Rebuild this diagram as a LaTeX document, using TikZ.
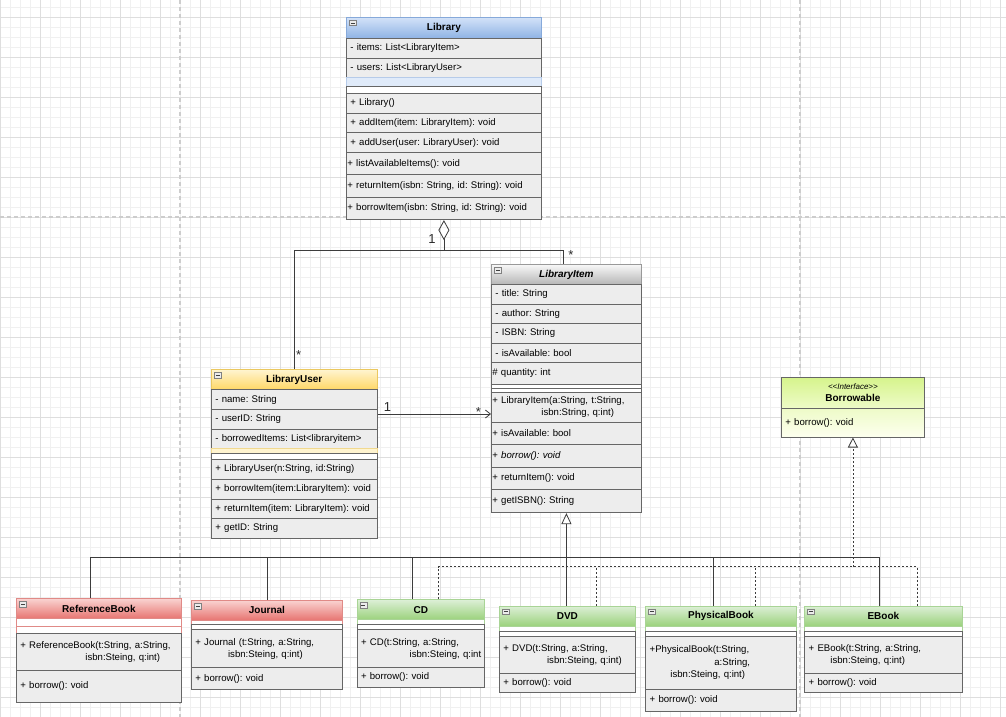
\documentclass[tikz,border=0pt]{standalone}
\usepackage{fontspec}
\setmainfont{Liberation Sans}
\usetikzlibrary{arrows.meta}
\frenchspacing

\definecolor{rowfill}{HTML}{EDEDED}
\definecolor{rowline}{HTML}{666666}
\definecolor{linkc}{HTML}{3C3C3C}
\definecolor{bluetop}{HTML}{D3E2F8}
\definecolor{bluebot}{HTML}{8DB2E4}
\definecolor{blueline}{HTML}{86A9DA}
\definecolor{yellowtop}{HTML}{FFF4CF}
\definecolor{yellowbot}{HTML}{FFD765}
\definecolor{yellowline}{HTML}{EBC860}
\definecolor{graytop}{HTML}{F7F7F7}
\definecolor{graybot}{HTML}{B5B5B5}
\definecolor{grayline}{HTML}{999999}
\definecolor{redtop}{HTML}{F9D2D0}
\definecolor{redbot}{HTML}{E77470}
\definecolor{redline}{HTML}{E08A87}
\definecolor{greentop}{HTML}{DCEFD6}
\definecolor{greenbot}{HTML}{9BD27C}
\definecolor{greenline}{HTML}{A9D496}
\definecolor{ifacetop}{HTML}{D6F48C}
\definecolor{ifacemid}{HTML}{EEFBC8}
\definecolor{ifacebot}{HTML}{FDFFEF}
\definecolor{gridc}{HTML}{F0F0F0}
\definecolor{gridmaj}{HTML}{DEDEDE}
\definecolor{breakc}{HTML}{CDCDCD}
\definecolor{multc}{HTML}{2A2A2A}

\newcommand{\rowpad}{\hspace*{3pt}}

\tikzset{
  cls cell/.style={draw=rowline, line width=0.8pt, anchor=north west, inner xsep=1pt, inner ysep=0pt,
    align=left, font=\fontsize{9.6}{12.3}\selectfont},
  cls row/.style={cls cell, fill=rowfill},
  cls gap/.style={cls cell, fill=white, font=\fontsize{1}{1}\selectfont},
  cls head/.style={cls cell, align=center, font=\fontsize{10}{12}\selectfont\bfseries},
  head blue/.style={cls head, draw=blueline, top color=bluetop, bottom color=bluebot},
  head yellow/.style={cls head, draw=yellowline, top color=yellowtop, bottom color=yellowbot},
  head gray/.style={cls head, draw=grayline, top color=graytop, bottom color=graybot},
  head red/.style={cls head, draw=redline, top color=redtop, bottom color=redbot},
  head green/.style={cls head, draw=greenline, top color=greentop, bottom color=greenbot},
  cls icon/.style={draw=gray, fill=gray!15, line width=0.5pt, anchor=north west, minimum width=7pt,
    minimum height=5.5pt, inner sep=0pt,
    path picture={\draw[gray!50!black, line width=0.6pt] ([xshift=1.5pt]path picture bounding box.west)
      -- ([xshift=-1.5pt]path picture bounding box.east);}},
  link/.style={draw=linkc, line width=0.8pt},
  realize/.style={link, dash pattern=on 2pt off 2pt},
  mult/.style={anchor=base, inner sep=0pt, font=\fontsize{13}{13}\selectfont, text=multc},
  grid minor/.style={draw=gridc, line width=0.5pt},
  grid major/.style={draw=gridmaj, line width=0.6pt},
  page break/.style={draw=breakc, line width=1.2pt, dash pattern=on 4pt off 3pt}
}

\begin{document}
\begin{tikzpicture}[x=1pt, y=-1pt]
\fill[white] (0,0) rectangle (1006,717);
\useasboundingbox (0,0) rectangle (1006,717);

% background grid and page breaks
\foreach \x in {0,10,...,1000} \draw[grid minor] (\x,0) -- (\x,717);
\foreach \y in {7,17,...,717} \draw[grid minor] (0,\y) -- (1006,\y);
\foreach \x in {0,40,...,1000} \draw[grid major] (\x,0) -- (\x,717);
\foreach \y in {17,57,...,697} \draw[grid major] (0,\y) -- (1006,\y);
\draw[page break] (180,0) -- (180,717) (800,0) -- (800,717) (0,217) -- (1006,217);

% Library
\begin{scope}[nodes={text width=193pt}]
\node[head blue, minimum height=21.3pt] (library) at (346,17) {Library};
\node[cls row, minimum height=19.4pt] (lib-a1) at (346,38.3) {\rowpad- items: List<LibraryItem>};
\node[cls row, minimum height=19pt] (lib-a2) at (346,57.7) {\rowpad- users: List<LibraryUser>};
\node[cls gap, fill=bluetop!70, draw=blueline!60, minimum height=9.3pt] (lib-e1) at (346,76.7) {};
\node[cls gap, minimum height=7.3pt] (lib-e2) at (346,86) {};
\node[cls row, minimum height=19.4pt] (lib-m1) at (346,93.3) {\rowpad+ Library()};
\node[cls row, minimum height=19.6pt] (lib-m2) at (346,112.7) {\rowpad+ addItem(item: LibraryItem): void};
\node[cls row, minimum height=20pt] (lib-m3) at (346,132.3) {\rowpad+ addUser(user: LibraryUser): void};
\node[cls row, minimum height=21.7pt] (lib-m4) at (346,152.3) {+ listAvailableItems(): void};
\node[cls row, minimum height=22.7pt] (lib-m5) at (346,174) {+ returnItem(isbn: String, id: String): void};
\node[cls row, minimum height=22.6pt] (lib-m6) at (346,196.7) {+ borrowItem(isbn: String, id: String): void};
\end{scope}

% LibraryItem
\begin{scope}[nodes={text width=148pt}]
\node[head gray, minimum height=20pt] (item) at (491,264.3) {\itshape LibraryItem};
\node[cls row, minimum height=19.4pt] (item-a1) at (491,284.3) {\rowpad- title: String};
\node[cls row, minimum height=19.6pt] (item-a2) at (491,303.7) {\rowpad- author: String};
\node[cls row, minimum height=19.4pt] (item-a3) at (491,323.3) {\rowpad- ISBN: String};
\node[cls row, minimum height=19pt] (item-a4) at (491,342.7) {\rowpad- isAvailable: bool};
\node[cls row, minimum height=22.6pt] (item-a5) at (491,361.7) {\# quantity: int};
\node[cls gap, minimum height=4pt] (item-e1) at (491,384.3) {};
\node[cls gap, minimum height=3.4pt] (item-e2) at (491,388.3) {};
\node[cls row, minimum height=30pt] (item-m1) at (491,391.7)
  {+ LibraryItem(a:String, t:String,\\\hspace*{49pt}isbn:String, q:int)};
\node[cls row, minimum height=22.6pt] (item-m2) at (491,421.7) {+ isAvailable: bool};
\node[cls row, minimum height=22.4pt] (item-m3) at (491,444.3) {+ \textit{borrow(): void}};
\node[cls row, minimum height=22.6pt] (item-m4) at (491,466.7) {+ returnItem(): void};
\node[cls row, minimum height=23pt] (item-m5) at (491,489.3) {+ getISBN(): String};
\end{scope}

% LibraryUser
\begin{scope}[nodes={text width=163.7pt}]
\node[head yellow, minimum height=20pt] (user) at (211,369.3) {LibraryUser};
\node[cls row, minimum height=19.7pt] (user-a1) at (211,389.3) {\rowpad- name: String};
\node[cls row, minimum height=19.7pt] (user-a2) at (211,409) {\rowpad- userID: String};
\node[cls row, minimum height=19pt] (user-a3) at (211,428.7) {\rowpad- borrowedItems: List<libraryitem>};
\node[cls gap, fill=yellowtop, draw=yellowline!70, minimum height=5pt] (user-e1) at (211,447.7) {};
\node[cls gap, minimum height=6.3pt] (user-e2) at (211,452.7) {};
\node[cls row, minimum height=20pt] (user-m1) at (211,459) {\rowpad+ LibraryUser(n:String, id:String)};
\node[cls row, minimum height=20pt] (user-m2) at (211,479) {\rowpad+ borrowItem(item:LibraryItem): void};
\node[cls row, minimum height=19.3pt] (user-m3) at (211,499) {\rowpad+ returnItem(item: LibraryItem): void};
\node[cls row, minimum height=19.4pt] (user-m4) at (211,518.3) {\rowpad+ getID: String};
\end{scope}

% Borrowable
\begin{scope}[nodes={text width=141pt}]
\node[cls head, top color=ifacetop, bottom color=ifacemid, minimum height=31.6pt] (borrowable) at (781,376.7)
  {{\mdseries\itshape\fontsize{8}{10}\selectfont <\kern0pt<Interface>\kern0pt>}\\Borrowable};
\node[cls cell, top color=ifacemid, bottom color=ifacebot, minimum height=28.4pt] (borr-m1) at (781,408.3)
  {\rowpad+ borrow(): void};
\end{scope}

% ReferenceBook
\begin{scope}[nodes={text width=163pt}]
\node[head red, minimum height=20pt] (refbook) at (16,598.3) {ReferenceBook};
\node[cls gap, draw=redline, minimum height=7.4pt] (refbook-e1) at (16,618.3) {};
\node[cls gap, draw=redline, minimum height=7pt] (refbook-e2) at (16,625.7) {};
\node[cls row, minimum height=37.3pt] (refbook-m1) at (16,632.7)
  {\rowpad+ ReferenceBook(t:String, a:String,\\\hspace*{68pt}isbn:Steing, q:int)};
\node[cls row, minimum height=32pt] (refbook-m2) at (16,670) {\rowpad+ borrow(): void};
\end{scope}

% Journal
\begin{scope}[nodes={text width=149pt}]
\node[head red, minimum height=20pt] (journal) at (191,600) {Journal};
\node[cls gap, draw=redline, minimum height=4.3pt] (journal-e1) at (191,620) {};
\node[cls gap, minimum height=5pt] (journal-e2) at (191,624.3) {};
\node[cls row, minimum height=38pt] (journal-m1) at (191,629.3)
  {\rowpad+ Journal (t:String, a:String,\\\hspace*{35.7pt}isbn:Steing, q:int)};
\node[cls row, minimum height=22pt] (journal-m2) at (191,667.3) {\rowpad+ borrow(): void};
\end{scope}

% CD
\begin{scope}[nodes={text width=125.3pt}]
\node[head green, minimum height=20pt] (cd) at (356.7,599.3) {CD};
\node[cls gap, draw=greenline, minimum height=5pt] (cd-e1) at (356.7,619.3) {};
\node[cls gap, minimum height=5pt] (cd-e2) at (356.7,624.3) {};
\node[cls row, minimum height=38pt] (cd-m1) at (356.7,629.3)
  {\rowpad+ CD(t:String, a:String,\\\hspace*{51.6pt}isbn:Steing, q:int};
\node[cls row, minimum height=19.4pt] (cd-m2) at (356.7,667.3) {\rowpad+ borrow(): void};
\end{scope}

% DVD
\begin{scope}[nodes={text width=134pt}]
\node[head green, minimum height=20pt] (dvd) at (499,605.7) {DVD};
\node[cls gap, draw=greenline, minimum height=5pt] (dvd-e1) at (499,625.7) {};
\node[cls gap, minimum height=5pt] (dvd-e2) at (499,630.7) {};
\node[cls row, minimum height=37.6pt] (dvd-m1) at (499,635.7)
  {\rowpad+ DVD(t:String, a:String,\\\hspace*{46.7pt}isbn:Steing, q:int)};
\node[cls row, minimum height=18.4pt] (dvd-m2) at (499,673.3) {\rowpad+ borrow(): void};
\end{scope}

% PhysicalBook
\begin{scope}[nodes={text width=148.4pt}]
\node[head green, minimum height=20pt] (physbook) at (645.3,605.7) {PhysicalBook};
\node[cls gap, draw=greenline, minimum height=5pt] (physbook-e1) at (645.3,625.7) {};
\node[cls gap, minimum height=5pt] (physbook-e2) at (645.3,630.7) {};
\node[cls row, minimum height=53pt] (physbook-m1) at (645.3,635.7)
  {\rowpad+PhysicalBook(t:String,\\\hspace*{67.7pt}a:String,\\\hspace*{23.7pt}isbn:Steing, q:int)};
\node[cls row, minimum height=22pt] (physbook-m2) at (645.3,688.7) {\rowpad+ borrow(): void};
\end{scope}

% EBook
\begin{scope}[nodes={text width=155.4pt}]
\node[head green, minimum height=20pt] (ebook) at (804.3,605.7) {EBook};
\node[cls gap, draw=greenline, minimum height=5pt] (ebook-e1) at (804.3,625.7) {};
\node[cls gap, minimum height=5pt] (ebook-e2) at (804.3,630.7) {};
\node[cls row, minimum height=37.6pt] (ebook-m1) at (804.3,635.7)
  {\rowpad+ EBook(t:String, a:String,\\\hspace*{24.7pt}isbn:Steing, q:int)};
\node[cls row, minimum height=19pt] (ebook-m2) at (804.3,673.3) {\rowpad+ borrow(): void};
\end{scope}

% collapse icons
\foreach \h in {library,user,item,refbook,journal,cd,dvd,physbook,ebook}
  \node[cls icon] (\h-icon) at ([xshift=3pt,yshift=-3pt]\h.north west) {};

% aggregation Library <>-- users / items
\coordinate (aggjoin) at ([yshift=-30pt]lib-m6.south);
\draw[link, {Diamond[open, length=20pt, width=11pt]}-] (lib-m6.south) -- (aggjoin);
\coordinate (itemtop) at ([xshift=-3pt]item.north);
\draw[link] (user.north) |- (aggjoin) -| (itemtop);
\node[mult] (agg-one) at (432,243) {1};
\node[mult] (agg-item) at (571,259) {*};
\node[mult] (agg-user) at (298.7,359) {*};

% association LibraryUser --> LibraryItem
\coordinate (assocstart) at ([yshift=-5pt]user-a2.north east);
\draw[link, -{Straight Barb[length=5pt, width=8pt]}] (assocstart) -- (assocstart -| item.west);
\node[mult] (assoc-one) at (387.5,411.7) {1};
\node[mult] (assoc-item) at (478.3,416.4) {*};

% generalization to LibraryItem
\coordinate (genjoin) at ([yshift=-44pt]item-m5.south);
\draw[link, -{Triangle[open, length=11pt, width=10pt]}] (genjoin) -- (item-m5.south);
\coordinate (rbg) at ([xshift=-8.5pt]refbook.north);
\coordinate (jrg) at (journal.north);
\coordinate (cdg) at ([xshift=-8pt]cd.north);
\coordinate (dvdg) at ([xshift=-1pt]dvd.north);
\coordinate (pbg) at ([xshift=-7.5pt]physbook.north);
\coordinate (ebg) at ([xshift=-4pt]ebook.north);
\draw[link] (rbg) |- (ebg |- genjoin) -- (ebg);
\foreach \p in {jrg,cdg,dvdg,pbg} \draw[link] (\p) -- (\p |- genjoin);

% realization of Borrowable
\coordinate (realjoin) at ([yshift=-129.3pt]borr-m1.south);
\draw[realize, -{Triangle[open, length=10pt, width=10pt]}] (realjoin) -- (borr-m1.south);
\coordinate (cdr) at ([xshift=18pt]cd.north);
\coordinate (dvdr) at ([xshift=29pt]dvd.north);
\coordinate (pbr) at ([xshift=34pt]physbook.north);
\coordinate (ebr) at ([xshift=34pt]ebook.north);
\draw[realize] (cdr) |- (ebr |- realjoin) -- (ebr);
\foreach \p in {dvdr,pbr} \draw[realize] (\p) -- (\p |- realjoin);
\end{tikzpicture}
\end{document}
